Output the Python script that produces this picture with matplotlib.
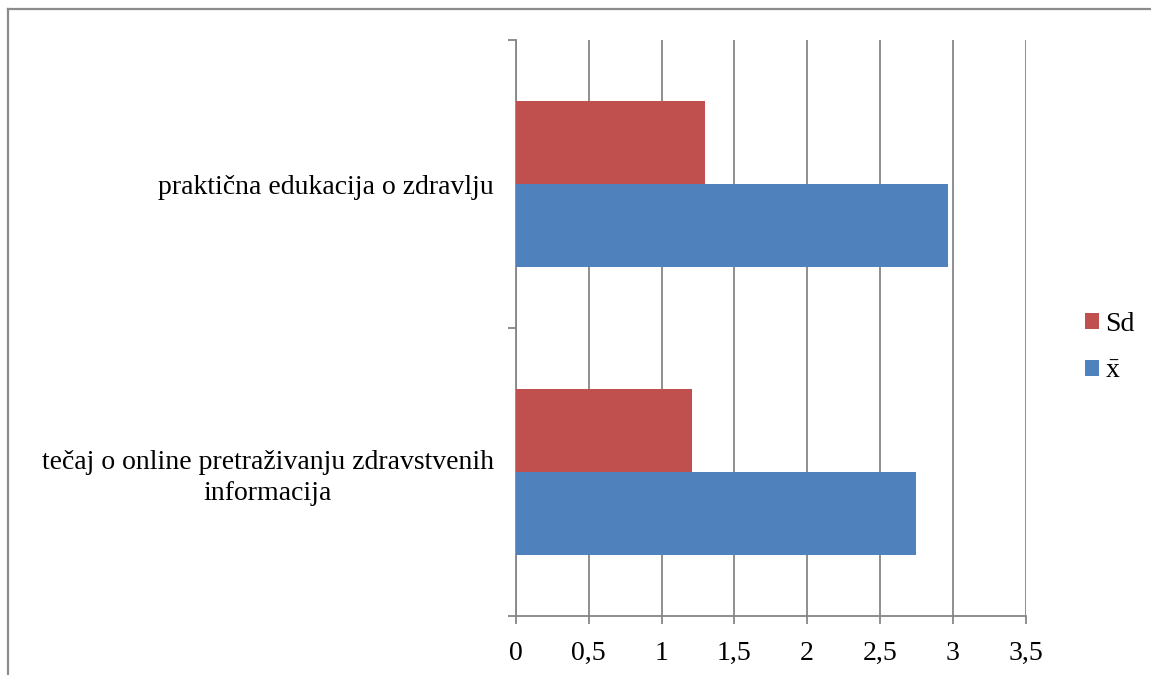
import matplotlib
matplotlib.use("Agg")
import matplotlib.pyplot as plt
import numpy as np
from matplotlib.ticker import FixedLocator, FuncFormatter
from matplotlib.lines import Line2D

categories = ["tečaj o online pretraživanju zdravstvenih\ninformacija",
              "praktična edukacija o zdravlju"]
series_names = [r"$\bar{\mathrm{x}}$", "Sd"]
mean_values = [2.75, 2.97]
sd_values = [1.21, 1.30]
x_ticks = [0, 0.5, 1, 1.5, 2, 2.5, 3, 3.5]

BLUE = "#4F81BD"
RED = "#C0504D"
GRID = "#868686"
FONT = ["Liberation Serif", "DejaVu Serif"]
FS = 20

plt.rcParams['font.family'] = FONT
plt.rcParams['mathtext.fontset'] = 'custom'
plt.rcParams['mathtext.rm'] = 'Liberation Serif'

fig = plt.figure(figsize=(11.51, 6.75), dpi=100)
ax = fig.add_axes([516/1151, 1-616/675, (1025.5-516)/1151, (616-40)/675])

y = np.arange(len(categories))
h = 0.2865
ax.barh(y - h/2, mean_values, height=h, color=BLUE, label=series_names[0], zorder=3)
ax.barh(y + h/2, sd_values, height=h, color=RED, label=series_names[1], zorder=3)

ax.set_xlim(0, 3.5)
ax.set_ylim(-0.5, len(categories) - 0.5)
ax.xaxis.set_major_locator(FixedLocator(x_ticks))
ax.xaxis.set_major_formatter(FuncFormatter(lambda v, p: ('%g' % v).replace('.', ',')))
ax.grid(axis='x', color=GRID, linewidth=1.3, zorder=0)

ax.yaxis.set_major_locator(FixedLocator([-0.5, 0.5, 1.5]))
ax.yaxis.set_major_formatter(FuncFormatter(lambda v, p: ''))
ax.yaxis.set_minor_locator(FixedLocator(list(y)))
ax.set_yticklabels(categories, minor=True)
ax.tick_params(axis='y', which='minor', length=0, pad=16, labelsize=FS)
for t in ax.get_yticklabels(minor=True):
    t.set_multialignment('center')
    t.set_linespacing(1.32)
ax.tick_params(axis='y', which='major', length=6, width=1.3, color=GRID, direction='out')
ax.tick_params(axis='x', which='major', length=6, width=1.3, color=GRID, labelsize=FS, pad=12)

for s in ['top', 'right']:
    ax.spines[s].set_visible(False)
for s in ['left', 'bottom']:
    ax.spines[s].set_color(GRID)
    ax.spines[s].set_linewidth(1.3)

handles, labels = ax.get_legend_handles_labels()
leg = fig.legend(handles[::-1], labels[::-1], loc='center left',
                 bbox_to_anchor=(1085/1151, 1-348/675), frameon=False,
                 fontsize=FS, handlelength=0.5, handleheight=0.5,
                 handletextpad=0.22, labelspacing=0.8, borderaxespad=0,
                 borderpad=0)

# outer chart border (top and left visible)
fig.add_artist(Line2D([8/1151, 8/1151], [0, 1-9/675], transform=fig.transFigure,
                      color="#8C8C8C", linewidth=1.6))
fig.add_artist(Line2D([8/1151, 1], [1-9/675, 1-9/675], transform=fig.transFigure,
                      color="#8C8C8C", linewidth=1.6))

fig.savefig("out.png", dpi=100, facecolor="white")
